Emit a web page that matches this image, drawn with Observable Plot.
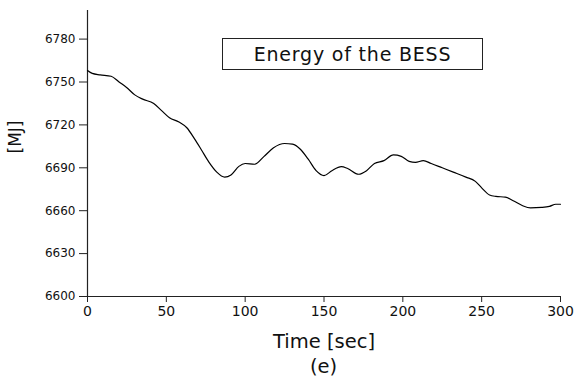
<!DOCTYPE html>
<html>
<head>
<meta charset="utf-8">
<script src="https://cdn.jsdelivr.net/npm/d3@7"></script>
<script src="https://cdn.jsdelivr.net/npm/@observablehq/plot@0.6"></script>
<style>
  body { margin: 0; background: #fff; font-family: "DejaVu Sans", sans-serif; }
  #wrap { position: relative; width: 577px; height: 383px; overflow: hidden; }
  #legend { position: absolute; left: 222px; top: 38px; width: 261px; height: 32px; box-sizing: border-box;
            border: 1px solid #222; text-align: center; line-height: 30px; font-size: 19px; letter-spacing: 0.8px; color: #111; }
  #cap { position: absolute; left: 87px; top: 359px; width: 473px; text-align: center; font-size: 19.5px; line-height: 16px; color: #111; }
</style>
</head>
<body>
<div id="wrap"></div>
<script>
const timeSec = [0, 3, 8, 15, 20, 25, 30, 35, 42, 47, 52, 58, 63, 68, 72, 77, 82, 87, 91, 96, 100, 106, 112, 118, 125, 130, 135, 140, 145, 150, 155, 161, 165, 172, 177, 182, 188, 194, 199, 204, 208, 213, 218, 225, 232, 240, 246, 250, 255, 259, 265, 270, 276, 281, 288, 293, 297, 300];
const energyMJ = [6758, 6756, 6755, 6754, 6750, 6746, 6741, 6738, 6735, 6730, 6725, 6722, 6718, 6710, 6703, 6694, 6687, 6683.5, 6685, 6691, 6693, 6692.5, 6698, 6704, 6707, 6706.5, 6703, 6696, 6688, 6684.5, 6688, 6690.8, 6689.5, 6685.5, 6688, 6693, 6695, 6699, 6698, 6694.5, 6693.8, 6695, 6693, 6690, 6687, 6683.5, 6680.5, 6676, 6671, 6670, 6669.5, 6667, 6663.5, 6662, 6662.3, 6663, 6664.5, 6664.5];
const xTicks = [0, 50, 100, 150, 200, 250, 300];
const yTicks = [6600, 6630, 6660, 6690, 6720, 6750, 6780];
const legendLabel = "Energy of the BESS";
const xLabel = "Time [sec]";
const yLabel = "[MJ]";
const caption = "(e)";

const data = timeSec.map((t, i) => ({t, e: energyMJ[i]}));

const chart = Plot.plot({
  width: 577,
  height: 355,
  marginLeft: 87,
  marginRight: 17,
  marginTop: 10,
  marginBottom: 59,
  style: {fontFamily: "DejaVu Sans, sans-serif", color: "#111", background: "transparent"},
  x: {domain: [0, 300]},
  y: {domain: [6600, 6800]},
  marks: [
    Plot.axisX({ticks: xTicks, tickFormat: "d", tickSize: 6, tickPadding: 4, fontSize: 14, label: xLabel, labelAnchor: "center", labelOffset: 51, labelArrow: "none", stroke: "#222"}),
    Plot.axisY({ticks: yTicks, tickFormat: "d", tickSize: 8, tickPadding: 4, fontSize: 12, label: null, stroke: "#222"}),
    Plot.text([yLabel], {frameAnchor: "left", dx: -72, rotate: -90, fontSize: 17, fill: "#111", letterSpacing: 1.5}),
    Plot.ruleX([0], {stroke: "#222", strokeWidth: 1.2}),
    Plot.ruleY([6600], {stroke: "#222", strokeWidth: 1.2}),
    Plot.line(data, {x: "t", y: "e", curve: "monotone-x", stroke: "#000", strokeWidth: 1.2})
  ]
});
chart.querySelectorAll('[aria-label="x-axis label"] text').forEach(t => t.setAttribute("font-size", "19.5"));
const wrap = document.getElementById("wrap");
wrap.appendChild(chart);
const lg = document.createElement("div"); lg.id = "legend"; lg.textContent = legendLabel; wrap.appendChild(lg);
const cp = document.createElement("div"); cp.id = "cap"; cp.textContent = caption; wrap.appendChild(cp);
</script>
</body>
</html>
